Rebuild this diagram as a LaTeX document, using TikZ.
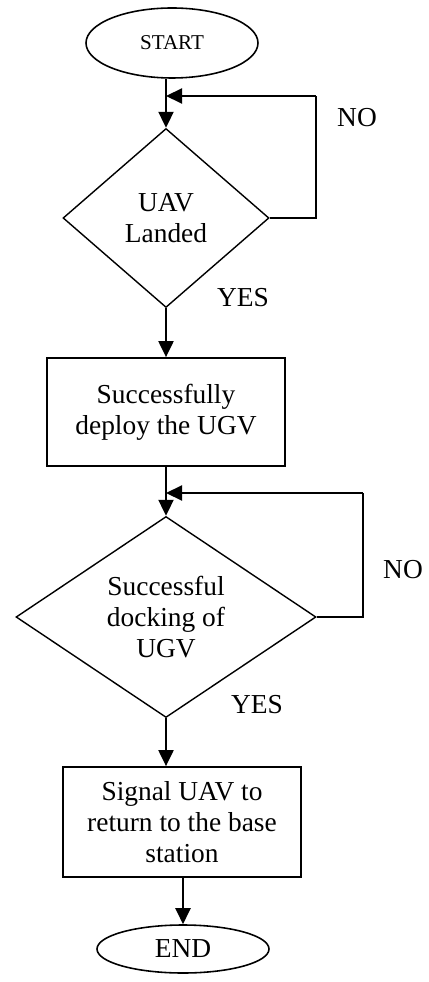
\documentclass[tikz,border=0pt]{standalone}
\usepackage{fontspec}
\setmainfont{Liberation Serif}
\usetikzlibrary{shapes.geometric,arrows.meta}

\begin{document}
\begin{tikzpicture}[
        terminal/.style={ellipse, draw, line width=0.9pt, inner sep=0pt},
        decision/.style={diamond, draw, line width=0.8pt, inner sep=0pt, align=center, font=\fontsize{15.6}{17.8}\selectfont},
        process/.style={rectangle, draw, line width=1pt, align=center, minimum width=4.76cm, font=\fontsize{15.6}{17.8}\selectfont},
        flow/.style={line width=1.2pt, -{Triangle[length=3.2mm, width=3mm]}},
        loopline/.style={line width=1.2pt},
        answer/.style={font=\fontsize{15.6}{17.8}\selectfont}
    ]
        \useasboundingbox (0,0) rectangle (8.58,-19.64);

        % Define nodes first, top to bottom
        \node[terminal, minimum width=3.44cm, minimum height=1.40cm, font=\fontsize{12}{14}\selectfont] (start) at (3.44,-0.86) {START};
        \node[decision, minimum width=4.12cm, minimum height=3.58cm] (d1) at (3.32,-4.36) {UAV\\Landed};
        \node[process, minimum height=2.16cm] (deploy) at (3.32,-8.24) {Successfully\\deploy the UGV};
        \node[decision, aspect=1.5, minimum width=6.0cm, minimum height=4.02cm] (d2) at (3.32,-12.34) {Successful\\docking of\\UGV};
        \node[process, minimum height=2.2cm] (signal) at (3.64,-16.44) {Signal UAV to\\return to the base\\station};
        \node[terminal, minimum width=3.44cm, minimum height=0.96cm, font=\fontsize{15.6}{17.8}\selectfont] (stop) at (3.66,-18.98) {END};

        % Corners of the two NO loops
        \coordinate (loop1) at (6.32,-1.92);
        \coordinate (join1) at (3.32,-1.92);
        \coordinate (loop2) at (7.26,-9.86);
        \coordinate (join2) at (3.32,-9.86);

        % Draw edges
        \draw[flow] (start.south -| d1.north) -- (d1.north);
        \draw[flow] (d1.south) -- (deploy.north);
        \draw[flow] (deploy.south) -- (d2.north);
        \draw[flow] (d2.south) -- (d2.south |- signal.north);
        \draw[flow] (signal.south -| stop.north) -- (stop.north);

        % NO loops back to the line above each decision
        \draw[loopline] (d1.east) -| (loop1);
        \draw[flow] (loop1) -- (join1);
        \draw[loopline] (d2.east) -| (loop2);
        \draw[flow] (loop2) -- (join2);

        % Answers
        \node[answer] (no1) at (7.14,-2.36) {NO};
        \node[answer] (yes1) at (4.86,-5.96) {YES};
        \node[answer] (no2) at (8.06,-11.40) {NO};
        \node[answer] (yes2) at (5.14,-14.10) {YES};
    \end{tikzpicture}
\end{document}
